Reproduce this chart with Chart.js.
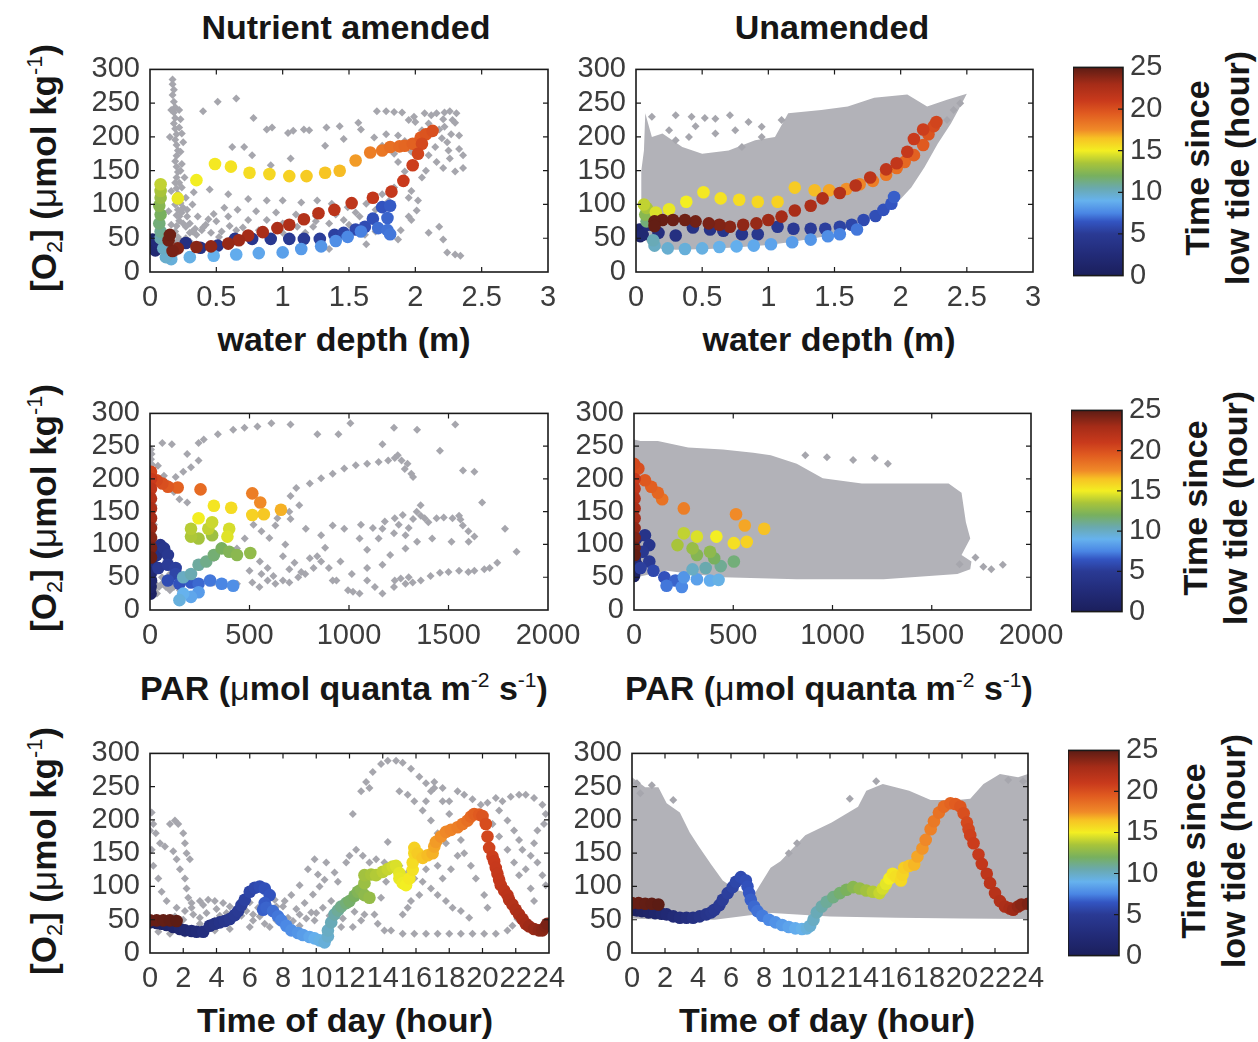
<!DOCTYPE html>
<html><head><meta charset="utf-8">
<script src="https://cdn.jsdelivr.net/npm/chart.js@4.4.1/dist/chart.umd.min.js"></script>
<style>
html,body{margin:0;padding:0;background:#fff;}
body{width:1258px;height:1042px;overflow:hidden;position:relative;font-family:"Liberation Sans",Arial,sans-serif;}
.t{position:absolute;transform:translate(-50%,-50%);font-weight:bold;font-size:34px;white-space:nowrap;color:#161616;line-height:1;}
.rot{transform:translate(-50%,-50%) rotate(-90deg);}
.yl{font-size:35px;}
.t sub,.t sup{font-size:0.62em;font-weight:normal;line-height:0;}
.t sub{vertical-align:-0.28em;}
.t sup{vertical-align:0.62em;}
.mu{font-weight:normal;}
.cbt{text-align:center;line-height:40px;}
</style></head><body>

<div class="t" style="left:346px;top:27px">Nutrient amended</div>
<div class="t" style="left:832px;top:27px">Unamended</div>

<div class="t rot yl" style="left:43px;top:168px">[O<sub>2</sub>] (<span class="mu">μ</span>mol kg<sup>-1</sup>)</div>
<div class="t rot yl" style="left:43px;top:508px">[O<sub>2</sub>] (<span class="mu">μ</span>mol kg<sup>-1</sup>)</div>
<div class="t rot yl" style="left:43px;top:851px">[O<sub>2</sub>] (<span class="mu">μ</span>mol kg<sup>-1</sup>)</div>

<div class="t" style="left:344px;top:339px">water depth (m)</div>
<div class="t" style="left:829px;top:339px">water depth (m)</div>
<div class="t" style="left:344px;top:688px">PAR (<span class="mu">μ</span>mol quanta m<sup>-2</sup> s<sup>-1</sup>)</div>
<div class="t" style="left:829px;top:688px">PAR (<span class="mu">μ</span>mol quanta m<sup>-2</sup> s<sup>-1</sup>)</div>
<div class="t" style="left:345px;top:1020px">Time of day (hour)</div>
<div class="t" style="left:827px;top:1020px">Time of day (hour)</div>

<div class="t rot cbt" style="left:1217px;top:168px">Time since<br>low tide (hour)</div>
<div class="t rot cbt" style="left:1215px;top:508px">Time since<br>low tide (hour)</div>
<div class="t rot cbt" style="left:1213px;top:851px">Time since<br>low tide (hour)</div>

<script>
// ---------------- tick values ----------------
const O2_TICKS = [0,50,100,150,200,250,300];
const DEPTH_TICKS = [0,0.5,1,1.5,2,2.5,3];
const PAR_TICKS = [0,500,1000,1500,2000];
const HOUR_TICKS = [0,2,4,6,8,10,12,14,16,18,20,22,24];
const CB_TICKS = [0,5,10,15,20,25];

// ---------------- colormap (time since low tide, h) ----------------
const CMAP_T = [0,2.5,5,6.5,7.5,9,10.5,12,13.5,15,16.5,17.5,19.5,21,23,25];
const CMAP_C = ['#1b1f5c','#222b78','#2a3a94','#3355c2','#4a86e4','#66b2ee','#6aa9ae','#78b05e','#a8c43a','#f3ee22','#f7c224','#f08a28','#e05a20','#c93a1c','#a52c18','#5c1c14'];

// ---------------- Nutrient amended: O2 vs water depth ----------------
// coloured day: [depth, O2, time since low tide]
const naDepthPts = [
[0.02,48,0.5],[0.03,42,1],[0.02,36,1.5],[0.04,32,2],[0.05,45,2.5],[0.12,34,3],
[0.27,43,3.3],[0.38,36,3.6],[0.51,39,3.9],[0.64,49,4.2],[0.77,49,4.4],[0.91,49,4.6],[1.05,49,4.8],[1.16,49,5],[1.28,49,5.2],[1.39,55,5.4],[1.46,58,5.6],[1.55,63,5.8],[1.62,67,6],[1.68,79,6.2],[1.75,96,6.4],[1.81,98,6.6],[1.79,80,6.8],[1.72,65,7],[1.79,62,7.1],[1.81,56,7.2],
[1.59,60,7.4],[1.49,52,7.6],[1.40,46,7.8],[1.29,38,8],[1.14,34,8.2],[1.0,29,8.4],[0.82,28,8.6],[0.65,26,8.8],[0.48,24,9],[0.30,22,9.2],[0.16,19,9.5],[0.12,22,9.8],
[0.1,35,10],[0.08,50,10.5],[0.08,60,11],[0.07,72,11.5],[0.08,85,12],[0.07,98,12.5],[0.08,110,13],[0.08,120,13.5],[0.08,130,14],
[0.21,109,14.8],[0.35,136,15],[0.49,160,15.2],[0.61,156,15.4],[0.75,147,15.6],[0.90,145,15.8],[1.05,142,16],[1.18,142,16.2],[1.32,147,16.4],[1.43,150,16.6],[1.55,165,17.2],
[1.66,177,18],[1.75,180,18.3],[1.81,185,18.6],[1.88,186,18.8],[1.92,187,19],[1.98,190,19.2],[2.04,199,19.5],[2.08,204,19.8],[2.13,209,20],
[2.05,190,20.3],[2.02,175,20.5],[1.98,158,20.8],[1.91,135,21],[1.82,119,21.2],[1.68,110,21.4],[1.52,102,21.6],[1.39,92,21.8],[1.27,87,22],[1.16,78,22.2],[1.05,70,22.4],[0.96,65,22.6],[0.85,59,22.8],[0.74,54,23],[0.67,47,23.2],[0.59,42,23.4],[0.46,38,23.6],[0.35,37,23.8],[0.21,35,24],[0.17,31,24.2],[0.14,47,24.4],[0.15,55,24.5]
];
const naDepthGrey = [
[0.17,285],[0.17,278],[0.18,270],[0.17,262],[0.18,252],[0.19,244],[0.18,236],[0.19,228],[0.18,220],[0.19,212],[0.2,204],[0.19,196],[0.2,188],[0.21,180],[0.2,172],[0.19,164],[0.2,156],[0.21,148],[0.2,140],[0.19,132],[0.2,124],[0.21,116],[0.2,108],[0.19,100],[0.21,92],[0.2,84],[0.22,76],[0.2,68],[0.19,60],[0.21,52],[0.2,44],[0.22,36],[0.2,28],[0.15,22],[0.25,192],[0.23,178],[0.24,160],[0.26,140],[0.24,125],[0.27,110],[0.25,95],[0.28,82],[0.3,72],[0.32,60],[0.27,50],
[0.22,240],[0.23,226],[0.22,214],[0.24,205],[0.23,150],[0.22,132],[0.23,102],[0.24,88],[0.16,240],[0.15,200],[0.16,120],[0.14,90],[0.16,70],
[0.40,238],[0.51,252],[0.65,257],[0.78,228],[0.88,211],[0.92,214],[1.04,206],[1.08,209],[1.16,211],[1.2,210],[1.33,214],[1.43,216],[1.57,221],[1.59,211],[1.71,238],[1.78,238],[1.84,237],[1.9,236],[1.99,230],[2.07,235],[2.12,232],[2.16,235],[2.22,236],[2.26,238],[2.31,235],[2.21,226],[2.30,221],[2.18,211],[2.27,204],[2.33,202],[2.24,192],[2.33,182],[2.36,173],[2.26,168],[2.36,154],[2.30,149],[2.21,154],[2.16,163],[2.10,173],[2.15,185],[2.22,215],[2.28,225],[2.2,198],[2.25,180],
[0.62,185],[0.71,185],[0.77,173],[1.06,168],[0.91,158],[1.32,187],[1.46,197],[1.69,199],[1.78,204],[1.87,202],[1.92,194],[1.75,187],[1.84,175],[1.87,163],[1.92,149],[1.92,132],[1.97,120],[2.02,106],[2.01,91],[1.97,77],[1.89,62],
[0.33,118],[0.45,122],[0.59,115],[0.74,108],[0.88,106],[1.0,106],[1.14,103],[1.26,106],[1.37,101],[1.49,96],[1.63,101],[1.75,115],[1.84,125],[1.58,82],[1.46,77],[1.35,72],[1.23,67],[1.11,67],[1.0,72],[0.88,77],[0.74,77],[0.59,82],[0.48,86],[0.36,82],[0.27,67],[0.39,62],[0.54,60],[0.65,62],[0.82,62],[1.0,58],[1.17,58],[1.35,34],[1.63,41],[1.87,48],[1.95,82],[2.10,58],[2.18,67],[2.21,48],[2.24,29],[2.30,26],[2.34,24],
[0.22,82],[0.25,72],[0.30,58],[0.22,48],[0.35,55],[0.42,70],[0.5,75],[0.6,68],[0.7,66],[0.56,95],[0.66,92],[0.8,90],[0.95,88],[1.1,85],[1.25,83],[1.4,85],[1.55,88],[1.7,92],[1.8,105],[1.95,110],[2.05,140],[2.0,160],[2.08,150],[1.97,178],[2.05,210],[2.1,220],[2.0,222],[1.95,225],
[0.4,66],[0.46,58],[0.52,52],[0.3,45],[0.34,64],[0.44,78],[0.28,92],[0.32,100],[1.25,75],[1.5,70],[1.7,60],[1.62,55]
];

// ---------------- Unamended: O2 vs water depth ----------------
const uaDepthPts = [
[0.03,53,0.5],[0.04,58,1],[0.03,63,1.5],[0.05,55,2],[0.09,70,2.5],
[0.17,58,3],[0.30,54,3.3],[0.43,66,3.6],[0.56,63,3.9],[0.66,61,4.1],[0.80,56,4.3],[0.92,56,4.5],[1.07,67,4.7],[1.19,64,4.9],[1.32,64,5.1],[1.43,64,5.3],[1.54,67,5.5],[1.63,70,5.7],[1.72,77,5.9],[1.81,83,6.1],[1.87,92,6.3],[1.93,101,6.5],[1.95,111,6.7],
[1.67,63,7.2],[1.54,56,7.5],[1.45,53,7.8],[1.32,48,8],[1.18,44,8.3],[1.02,41,8.5],[0.89,39,8.7],[0.76,38,8.9],[0.63,37,9.1],[0.50,35,9.3],[0.37,34,9.5],[0.24,35,9.7],[0.14,39,10],[0.13,47,10.3],
[0.08,75,11.5],[0.07,85,12.5],[0.08,95,13.5],[0.06,100,14],
[0.15,88,14.5],[0.25,93,14.8],[0.38,104,15],[0.51,118,15.2],[0.64,109,15.4],[0.78,107,15.6],[0.92,104,15.8],[1.07,104,16],[1.20,125,16.2],[1.35,121,16.6],[1.46,121,17],[1.59,123,17.4],[1.69,130,17.7],[1.79,135,18],[1.89,144,18.3],[1.97,154,18.6],[2.03,163,18.9],[2.10,173,19.2],[2.17,188,19.5],[2.21,204,19.8],[2.25,216,20.2],[2.27,222,20.5],
[2.17,211,20.8],[2.10,197,21],[2.05,178,21.2],[1.97,161,21.4],[1.89,152,21.6],[1.77,140,21.8],[1.66,128,22],[1.54,117,22.2],[1.41,109,22.4],[1.32,98,22.6],[1.20,91,22.8],[1.10,82,23],[1.0,77,23.2],[0.91,72,23.4],[0.81,70,23.6],[0.71,67,23.8],[0.63,70,24],[0.55,72,24.2],[0.45,75,24.4],[0.37,77,24.5],[0.28,77,24.6],[0.20,77,24.7],[0.14,75,24.8],[0.14,68,24.8]
];
// outline of the dense grey cloud (other days)
const uaDepthCloud = [
[0.04,58],[0.04,150],[0.06,180],[0.07,235],[0.12,200],[0.2,205],[0.35,185],[0.5,175],[0.7,180],[0.9,195],[1.05,200],[1.15,235],[1.4,240],[1.6,245],[1.8,258],[2.05,263],[2.2,245],[2.35,255],[2.5,264],[2.45,245],[2.38,220],[2.28,190],[2.18,155],[2.08,125],[2.0,108],[1.9,95],[1.8,82],[1.6,65],[1.4,52],[1.2,45],[1.0,40],[0.8,37],[0.55,34],[0.3,33],[0.16,35],[0.08,45],[0.04,58]
];
const uaDepthGrey = [
[0.3,232],[0.42,230],[0.52,228],[0.6,227],[0.71,232],[0.45,216],[0.85,222],[0.12,230],[0.25,210],[0.4,200],[0.6,205],[0.75,210],[0.95,215],[1.1,225],[2.45,250],[2.4,240],[2.35,225],[0.8,185],[0.95,200],[0.3,195]
];

// ---------------- Nutrient amended: O2 vs PAR ----------------
const naParPts = [
[3,25,0.5],[3,35,1],[5,45,1.5],[3,55,2],[5,65,2.5],[8,75,3],
[33,84,3.5],[52,99,4],[71,94,4.3],[90,84,4.6],[42,64,4.9],[90,69,5.1],[129,64,5.3],
[129,55,5.6],[90,45,6],[148,40,6.3],[206,42,6.6],[244,40,6.9],[302,45,7.2],[360,40,7.5],[418,37,7.8],[244,27,8.2],[206,20,8.6],[167,25,9],[148,15,9.4],
[167,50,10],[206,55,10.4],[244,69,10.8],[283,74,11.2],[321,84,11.6],[360,94,12],[398,89,12.3],[437,84,12.6],[504,87,12.8],
[312,114,13.2],[244,109,13.4],[206,112,13.6],[206,124,13.8],[293,124,14],[312,134,14.2],[398,124,14.4],[389,112,14.6],[244,140,15],
[321,159,15.3],[408,156,15.6],[514,145,16],[572,146,16.3],[658,153,16.8],
[554,164,17.5],[514,178,18],[254,184,18.8],[139,187,19.2],[90,188,19.6],[62,193,20],[33,198,20.3],[5,211,20.5],
[5,200,21],[5,185,21.5],[5,170,22],[5,155,22.5],[5,140,23],[5,125,23.4],[5,110,23.8],[5,95,24.2],[5,80,24.6]
];
const naParGrey = [
[5,245],[8,238],[5,230],[10,222],[8,212],[12,200],[15,190],[10,175],[18,160],[14,145],[20,130],[16,115],[22,100],[18,85],[25,70],[20,55],[28,40],[20,30],[35,25],[45,35],[60,40],[80,35],[100,30],[120,35],[150,30],[60,50],[100,55],[140,60],
[62,255],[110,253],[187,238],[244,255],[270,260],[341,268],[418,275],[475,278],[540,280],[610,285],[706,283],[841,268],[947,268],[1007,285],[1168,253],[1226,278],[1342,275],[1457,243],[1534,283],[1573,213],[1630,211],[90,193],[129,203],[167,211],[206,218],[244,228],[148,169],[187,164],[120,180],[70,205],[40,220],
[706,174],[735,186],[803,193],[860,201],[918,208],[976,216],[1034,221],[1091,223],[1149,226],[1197,228],[1245,236],[1264,228],[1294,223],[1313,208],[1322,203],[1280,215],[1230,232],
[321,42],[380,38],[437,40],[514,42],[550,35],[591,45],[630,40],[668,45],[700,42],[745,50],[780,55],[822,64],[860,74],[899,64],[937,45],[995,30],[1020,28],[1053,25],[1091,45],[1130,35],[1168,25],[1226,35],[1284,40],[1320,42],[1361,45],[1410,52],[1457,57],[1500,58],[1553,60],[1600,58],[1630,60],[1680,62],[1707,64],[1745,72],[1230,45],[1260,48],[1300,50],
[630,129],[706,139],[783,124],[860,114],[918,129],[976,124],[1053,109],[1091,92],[1149,109],[1168,124],[1226,117],[1284,114],[1322,139],[1361,144],[1399,134],[1476,141],[1553,144],[1572,129],[1601,104],[1630,112],[1669,164],[1784,124],[1842,89],[1515,104],[1418,109],[1342,104],[1284,94],[1207,84],[1168,69],[1091,64],[1014,55],[957,74],[918,45],[1250,130],[1300,125],[1380,140],[1440,140],[1520,140],[1560,138],[1600,120],[1340,150],[1360,160],[1270,145],[1230,140],[1180,135],[1120,125],[1060,130],
[321,79],[437,94],[476,109],[552,74],[591,64],[668,82],[726,72],[803,79],[500,60],[560,55],[620,52],[700,62],[760,58],[840,82],[880,95],[520,130],[560,120],[600,110],[680,100],[640,140],[700,150],[750,160]
];

// ---------------- Unamended: O2 vs PAR ----------------
const uaParPts = [
[0,52,0.5],[3,58,1],[3,65,1.5],[11,70,2],[5,80,2.5],
[11,109,3.5],[55,114,4],[77,99,4.3],[44,89,4.6],[77,74,5],[33,64,5.3],
[98,60,5.8],[153,50,6.3],[208,45,6.8],[164,37,7.2],[241,35,7.6],[251,50,8],[317,47,8.4],[383,45,8.8],[426,46,9.2],
[295,62,10],[361,64,10.5],[437,67,11],[503,74,11.5],[404,79,12],[317,84,12.4],[383,89,12.7],[295,94,13],[219,99,13.5],
[251,117,14],[317,112,14.5],[415,112,15],[503,102,15.5],[568,104,16],
[656,124,16.5],[558,129,17],[514,146,17.5],[251,155,18],[142,169,18.5],[120,179,19],[87,188,19.3],[55,198,19.6],[22,216,20],[0,223,20.3],
[3,200,21],[3,185,21.5],[3,170,22],[3,155,22.5],[3,140,23],[3,125,23.5],[3,110,24],[3,95,24.5],[3,84,24.8]
];
const uaParCloud = [
[0,50],[0,260],[33,258],[120,258],[273,248],[448,245],[601,240],[689,236],[820,223],[951,201],[1148,193],[1366,193],[1585,193],[1650,179],[1672,134],[1694,109],[1650,84],[1700,74],[1694,62],[1629,55],[1257,47],[820,47],[448,50],[295,55],[164,60],[11,50],[0,50]
];
const uaParGrey = [
[863,236],[972,233],[1104,229],[1213,232],[1279,223],[1760,66],[1800,62],[1858,69],[1720,80],[1640,70]
];

// ---------------- Nutrient amended: O2 vs time of day ----------------
const naHourPts = [
[0,46,0.3],[0.4,45,0.5],[0.7,44,0.8],[1.0,42,1],[1.4,39,1.3],[1.8,36,1.7],[2.1,34,2],[2.5,33,2.3],[2.8,32,2.6],[3.2,32,3],[3.6,41,3.3],[3.9,44,3.6],[4.2,46,3.9],[4.5,48,4.2],[4.8,51,4.5],[5.1,57,4.8],[5.3,63,5],[5.5,72,5.2],[5.7,80,5.4],[6.0,92,5.6],[6.3,98,5.8],[6.6,100,6],[6.9,97,6.2],[7.2,87,6.4],[6.9,75,6.6],[6.8,65,6.7],[7.0,68,6.8],[7.4,63,7],[7.7,55,7.2],[7.9,49,7.4],[8.2,41,7.6],[8.5,34,7.8],[8.9,30,8],[9.2,27,8.3],[9.6,24,8.6],[9.9,22,8.9],[10.2,19,9.2],[10.5,16,9.5],[10.7,25,9.8],[10.7,34,10],[10.9,46,10.3],[11.1,58,10.6],[11.3,64,10.9],[11.5,70,11.2],[11.8,75,11.5],[12.0,78,11.8],[12.3,86,12],[12.5,92,12.3],[12.7,95,12.5],[12.9,87,12.7],[13.2,83,12.9],[12.9,105,13.1],[12.9,117,13.3],[13.3,118,13.5],[13.6,117,13.7],[14.0,122,13.9],[14.3,126,14.1],[14.6,130,14.3],[14.8,131,14.5],[15.0,120,14.7],[15.0,112,14.8],[15.2,105,14.9],[15.4,102,15],[15.6,112,15.2],[15.8,125,15.4],[15.8,136,15.6],[15.9,150,15.8],[15.9,158,16],[16.1,150,16.2],[16.4,143,16.4],[16.7,147,16.6],[17.0,150,16.8],[17.1,160,17],[17.2,167,17.2],[17.5,175,17.4],[17.8,182,17.6],[18.1,185,17.8],[18.5,189,18],[18.8,194,18.3],[19.1,199,18.6],[19.3,205,18.9],[19.5,209,19.2],[19.8,208,19.5],[20.0,206,19.8],[20.2,194,20.1],[20.3,175,20.4],[20.4,158,20.6],[20.6,145,20.8],[20.7,138,21],[20.8,128,21.1],[20.9,119,21.2],[21.0,110,21.3],[21.1,102,21.4],[21.3,94,21.6],[21.5,87,21.8],[21.6,80,22],[21.8,73,22.2],[22.0,65,22.4],[22.2,58,22.6],[22.4,51,22.8],[22.6,44,23],[22.8,40,23.2],[23.1,36,23.4],[23.4,34,23.6],[23.6,34,23.8],[23.8,40,24],[23.9,44,24.2],
[0,49,24.6],[0.4,49,24.7],[0.8,49,24.8],[1.2,49,24.9],[1.6,48,25]
];
const naHourGrey = [
[0.1,211],[0.2,194],[0.35,180],[0.6,165],[0.9,160],[1.4,153],[1.6,141],[1.8,126],[2.1,112],[2.2,97],[2.3,83],[2.5,68],[3.0,53],
[1.2,194],[1.5,199],[1.7,194],[2.0,180],[2.1,165],[2.2,150],[2.4,141],
[0,184],[0.1,155],[0.2,131],[0.5,112],[0.7,92],[1.0,78],[1.6,68],[2.1,63],
[3.0,78],[3.5,80],[3.9,78],[4.4,75],[4.8,70],[5.3,68],[5.8,63],[6.2,58],[7.2,63],[7.6,70],[8.1,78],[8.5,87],[9.0,102],[9.5,126],[9.9,141],[10.6,136],[11.1,121],[11.3,107],[10.9,78],[10.4,68],[9.7,61],[9.0,58],[8.3,53],[7.6,49],[6.9,44],[6.0,39],[4.8,36],[3.9,34],[3.0,29],[2.1,29],[1.2,29],[0.5,32],[3.0,44],[3.9,49],[5.1,53],[6.2,49],[7.2,39],[8.1,39],[9.0,41],[9.9,49],[10.9,44],[11.5,39],[12.2,39],[12.7,49],[12.9,58],
[2.5,75],[3.2,72],[4.0,66],[4.6,60],[5.5,56],[6.5,68],[7.0,75],[7.5,80],[8.0,70],[8.8,66],[9.3,75],[9.8,88],[10.2,100],[10.5,110],[10.1,118],
[1.5,55],[2.0,50],[2.6,58],[3.4,60],[4.2,56],[5.0,60],[5.6,70],[6.0,76],[6.6,55],[7.8,58],[8.6,48],[9.4,52],[10.0,60],[10.8,56],[11.6,52],[12.3,62],
[12.2,209],[12.7,243],[13.0,257],[13.4,272],[13.9,284],[14.3,289],[14.8,289],[15.2,286],[15.7,277],[16.2,265],[16.6,255],[17.1,248],[17.6,228],[18.0,209],[18.4,189],[18.7,170],[18.9,150],[19.3,131],[19.6,112],[20.1,87],[20.3,68],
[13.2,248],[15.0,243],[15.5,238],[15.9,228],[16.4,214],[16.9,199],[17.3,180],[17.8,165],
[14.3,167],[14.4,131],[14.2,107],[13.9,83],[13.5,58],[13.7,44],[14.1,34],
[14.5,34],[15.2,29],[15.9,29],[16.6,29],[17.3,29],[18.0,29],[18.7,29],[19.4,29],[20.1,29],[20.8,29],[21.5,34],[21.8,41],[22.1,51],
[11.8,136],[12.0,146],[12.4,155],[12.8,146],[13.2,136],[13.6,141],[14.1,136],[14.5,126],[15.0,131],[15.5,121],[15.9,112],[16.4,107],[16.9,97],[17.3,87],[17.8,78],[18.2,68],[18.7,63],[19.2,53],[16.2,87],[15.7,78],[15.5,68],[15.2,58],[17.6,112],[18.1,126],[18.5,146],[17.3,131],[16.6,126],
[18.5,243],[18.9,238],[19.4,231],[19.9,223],[20.3,226],[20.8,233],[21.2,228],[21.7,235],[22.2,238],[22.6,238],[23.1,233],[23.6,223],[23.8,209],[23.7,194],[23.3,184],[23.1,165],[22.9,146],[22.6,126],[23.3,136],[23.6,117],[23.8,102],[21.0,214],[21.5,199],[21.9,184],[22.2,170],[22.4,155],[20.6,194],[21.0,175],[21.5,155],[21.9,136],[22.2,117],[22.9,97],[23.1,78],
[16.6,228],[16.9,243],[17.1,257],[17.6,248],[18.0,228]
];

// ---------------- Unamended: O2 vs time of day ----------------
const uaHourPts = [
[0,65,0.3],[0.3,64,0.5],[0.6,63,0.8],[1.0,61,1.1],[1.4,60,1.4],[1.8,59,1.8],[2.1,58,2.1],[2.5,55,2.4],[2.9,53,2.8],[3.3,53,3.1],[3.7,53,3.5],[4.1,55,3.8],[4.5,58,4.2],[4.8,61,4.5],[5.0,65,4.7],[5.3,72,4.9],[5.5,80,5.1],[5.8,90,5.3],[6.1,99,5.5],[6.3,107,5.7],[6.6,114,5.9],[6.9,109,6.1],[7.0,100,6.3],[7.1,90,6.5],[7.2,80,6.7],[7.4,70,6.9],[7.6,63,7.1],[7.9,56,7.3],[8.3,50,7.6],[8.7,46,7.9],[9.1,42,8.2],[9.5,39,8.5],[9.9,37,8.8],[10.3,36,9.1],[10.6,37,9.4],[10.8,41,9.7],[11.0,50,10],[11.2,61,10.3],[11.5,70,10.6],[11.8,77,10.9],[12.2,84,11.3],[12.6,90,11.7],[13.0,95,12.1],[13.4,99,12.5],[13.8,97,12.9],[14.2,94,13.3],[14.6,92,13.7],[15.0,90,14.1],[15.2,97,14.4],[15.4,104,14.7],[15.6,112,15],[15.8,119,15.3],[16.0,115,15.5],[16.3,109,15.7],[16.4,118,15.9],[16.5,128,16.1],[16.8,131,16.4],[17.1,133,16.7],[17.3,145,17],[17.6,157,17.3],[17.8,170,17.6],[18.1,186,17.9],[18.3,198,18.2],[18.6,211,18.5],[18.9,220,18.8],[19.3,225,19.1],[19.6,224,19.4],[19.9,220,19.7],[20.1,210,20],[20.3,196,20.3],[20.4,186,20.5],[20.5,177,20.7],[20.7,165,20.9],[21.0,148,21.2],[21.2,134,21.4],[21.5,119,21.6],[21.7,105,21.8],[22.0,90,22],[22.3,78,22.3],[22.6,70,22.6],[22.9,67,22.9],[23.1,65,23.2],[23.4,70,23.5],[23.6,73,23.8],[24,74,24.1],
[0,75,24.6],[0.4,75,24.7],[0.8,74,24.8],[1.2,74,24.9],[1.6,73,25]
];
const uaHourCloud = [
[0,264],[0.8,249],[1.6,249],[2.1,225],[2.9,211],[3.5,181],[4.0,162],[4.8,133],[5.5,109],[6.3,95],[7.4,88],[8.4,128],[9.0,138],[10.5,177],[12.1,196],[13.7,220],[14.2,244],[15.2,254],[16.8,244],[18.1,230],[19.7,230],[20.5,232],[21.3,254],[22.3,269],[23.4,264],[24,269],
[24,51],[20,52],[16,53],[12,55],[10,58],[8.5,60],[7.5,58],[5,50],[2,50],[0,52],[0,264]
];
const uaHourGrey = [
[0.3,255],[0.5,240],[1.2,252],[2.5,230],[22.8,260],[23.7,258],[9.5,150],[10.0,165],[14.8,258],[13.2,232]
];

// ---------------- drawing ----------------
const GREY = '#a6a6ad';
const CLOUD = '#b2b2b8';
const TC = '#3c3c3c';
const TF = {family:'"Liberation Sans", Arial, sans-serif', size:29, lineHeight:1.2};

function hex(c){return [parseInt(c.slice(1,3),16),parseInt(c.slice(3,5),16),parseInt(c.slice(5,7),16)];}
function cmap(t){
  if(t<=CMAP_T[0]) return CMAP_C[0];
  for(let i=1;i<CMAP_T.length;i++){
    if(t<=CMAP_T[i]){
      const f=(t-CMAP_T[i-1])/(CMAP_T[i]-CMAP_T[i-1]);
      const a=hex(CMAP_C[i-1]), b=hex(CMAP_C[i]);
      return 'rgb('+a.map((v,k)=>Math.round(v+(b[k]-v)*f)).join(',')+')';
    }
  }
  return CMAP_C[CMAP_C.length-1];
}

const boxPlugin = {
  id:'boxTicks',
  afterDatasetsDraw(chart){
    const {ctx, chartArea:a, scales} = chart;
    const L=5;
    ctx.save();
    ctx.strokeStyle='#1a1a1a'; ctx.lineWidth=1.6;
    ctx.strokeRect(a.left,a.top,a.right-a.left,a.bottom-a.top);
    ctx.lineWidth=1.2;
    ctx.beginPath();
    if(scales.x && scales.x.options.display!==false){
      scales.x.ticks.forEach(t=>{const p=scales.x.getPixelForValue(t.value); if(p<=a.left+1||p>=a.right-1) return;
        ctx.moveTo(p,a.bottom); ctx.lineTo(p,a.bottom-L); ctx.moveTo(p,a.top); ctx.lineTo(p,a.top+L);});
    }
    scales.y.ticks.forEach(t=>{const p=scales.y.getPixelForValue(t.value); if(p<=a.top+1||p>=a.bottom-1) return;
      if(!chart.$isCB){ctx.moveTo(a.left,p); ctx.lineTo(a.left+L,p);}
      ctx.moveTo(a.right,p); ctx.lineTo(a.right-L,p);});
    ctx.stroke();
    ctx.restore();
  }
};

function mkCanvas(l,t,w,h){
  const c=document.createElement('canvas');
  c.width=w; c.height=h;
  c.style.cssText='position:absolute;left:'+l+'px;top:'+t+'px;width:'+w+'px;height:'+h+'px';
  document.body.appendChild(c);
  return c;
}

const PL=80, PT=22, PR=45, PB=50;
function panel(box, xr, xTicks, cloud, grey, pts){
  const w=box[2]-box[0], h=box[3]-box[1];
  const c=mkCanvas(box[0]-PL, box[1]-PT, w+PL+PR, h+PT+PB);
  const ds=[];
  if(cloud) ds.push({type:'line', data:cloud.map(p=>({x:p[0],y:p[1]})), fill:'shape', backgroundColor:CLOUD, borderColor:'rgba(0,0,0,0)', borderWidth:0, pointRadius:0, tension:0, order:3});
  ds.push({type:'scatter', data:grey.map(p=>({x:p[0],y:p[1]})), pointStyle:'rectRot', pointRadius:4, pointBackgroundColor:GREY, pointBorderWidth:0, backgroundColor:GREY, borderWidth:0, order:2});
  ds.push({type:'scatter', data:pts.map(p=>({x:p[0],y:p[1]})), pointStyle:'circle', pointRadius:6.3, pointBackgroundColor:pts.map(p=>cmap(p[2])), pointBorderWidth:0, borderWidth:0, order:1});
  new Chart(c,{
    type:'scatter',
    data:{datasets:ds},
    options:{
      responsive:false, animation:false, devicePixelRatio:1, events:[],
      layout:{padding:{top:PT,right:PR,left:0,bottom:0}},
      plugins:{legend:{display:false},tooltip:{enabled:false}},
      scales:{
        x:{type:'linear',min:xr[0],max:xr[1],
           afterBuildTicks:s=>{s.ticks=xTicks.map(v=>({value:v}));},
           afterFit:s=>{s.height=PB;},
           grid:{display:false,drawTicks:false}, border:{display:false},
           ticks:{autoSkip:false,maxRotation:0,minRotation:0,padding:9,color:TC,font:TF,callback:v=>String(v)}},
        y:{type:'linear',min:0,max:300,
           afterBuildTicks:s=>{s.ticks=O2_TICKS.map(v=>({value:v}));},
           afterFit:s=>{s.width=PL;},
           grid:{display:false,drawTicks:false}, border:{display:false},
           ticks:{autoSkip:false,padding:10,color:TC,font:TF,callback:v=>String(v)}}
      }
    },
    plugins:[boxPlugin]
  });
}

function colorbar(box){
  const w=box[2]-box[0], h=box[3]-box[1];
  const c=mkCanvas(box[0], box[1]-PT, w+60, h+PT+24);
  new Chart(c,{
    type:'bar',
    data:{labels:[''], datasets:[{data:[[CB_TICKS[0],CB_TICKS[CB_TICKS.length-1]]], barPercentage:1, categoryPercentage:1, borderWidth:0, inflateAmount:0,
      backgroundColor:(ctx)=>{const ch=ctx.chart, a=ch.chartArea; if(!a) return '#888';
        const g=ch.ctx.createLinearGradient(0,a.bottom,0,a.top);
        CMAP_T.forEach((t,i)=>g.addColorStop(t/25,CMAP_C[i])); return g;}}]},
    options:{
      responsive:false, animation:false, devicePixelRatio:1, events:[],
      layout:{padding:{top:PT,right:0,left:0,bottom:24}},
      plugins:{legend:{display:false},tooltip:{enabled:false}},
      scales:{
        x:{display:false},
        y:{position:'right',min:0,max:25,
           afterBuildTicks:s=>{s.ticks=CB_TICKS.map(v=>({value:v}));},
           afterFit:s=>{s.width=60;},
           grid:{display:false,drawTicks:false}, border:{display:false},
           ticks:{autoSkip:false,padding:7,color:TC,font:TF,callback:v=>String(v)}}
      }
    },
    plugins:[{id:'cbflag',beforeInit(chart){chart.$isCB=true;}}, boxPlugin]
  });
}

panel([150,64,548,272],[0,3],DEPTH_TICKS,null,naDepthGrey,naDepthPts);
panel([636,64,1033,272],[0,3],DEPTH_TICKS,uaDepthCloud,uaDepthGrey,uaDepthPts);
panel([150,408,548,610],[0,2000],PAR_TICKS,null,naParGrey,naParPts);
panel([634,408,1031,610],[0,2000],PAR_TICKS,uaParCloud,uaParGrey,uaParPts);
panel([150,748,549,953],[0,24],HOUR_TICKS,null,naHourGrey,naHourPts);
panel([632,748,1028,953],[0,24],HOUR_TICKS,uaHourCloud,uaHourGrey,uaHourPts);
colorbar([1073,65,1123,276]);
colorbar([1071,408,1122,612]);
colorbar([1068,748,1119,956]);
</script>
</body></html>
